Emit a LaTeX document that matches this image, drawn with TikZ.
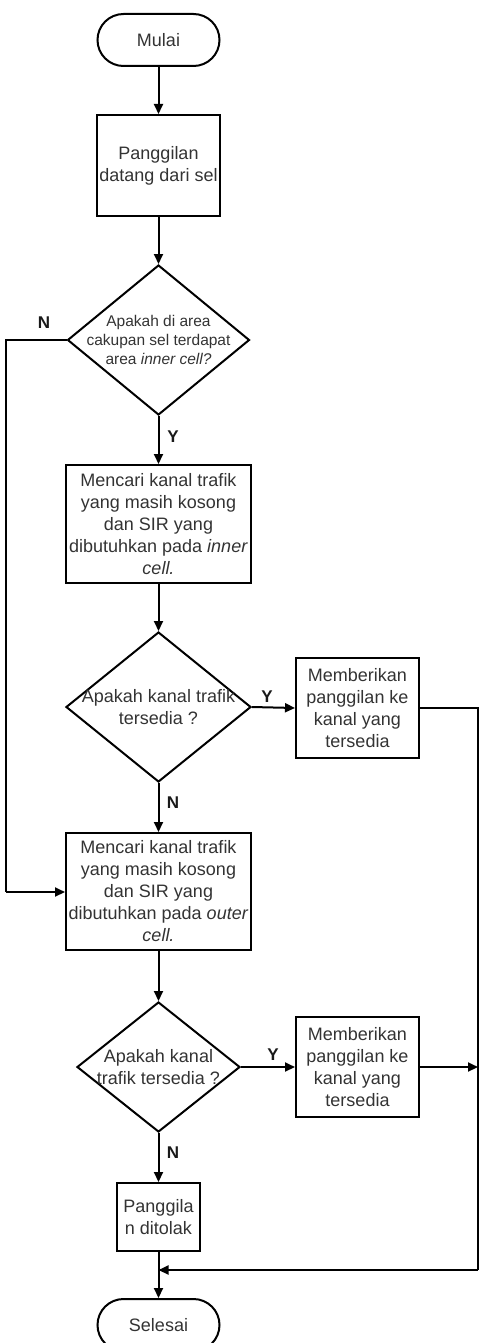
\documentclass[tikz,border=0pt]{standalone}
\usepackage{fontspec}
\setmainfont{Liberation Sans}
\usetikzlibrary{shapes.geometric,arrows.meta}
\begin{document}
\begin{tikzpicture}[x=1pt,y=-1pt,
  every node/.style={font=\fontsize{18}{22}\selectfont, text=black!80},
  proc/.style={draw=black, line width=2pt, rectangle, inner sep=0pt, align=center},
  term/.style={draw=black, line width=2pt, rectangle, rounded corners=26pt, inner sep=0pt, align=center, minimum width=122pt, minimum height=52pt},
  dec/.style={draw=black, line width=2pt, diamond, inner sep=0pt},
  dtext/.style={align=center},
  lab/.style={font=\fontsize{17}{19}\selectfont\bfseries, text=black!90},
  conn/.style={draw=black, line width=2pt},
  arr/.style={conn, -{Triangle[length=10pt,width=9pt]}}
]
\useasboundingbox (0,0) rectangle (482,1343);
\clip (0,0) rectangle (482,1343);

% nodes
\node[term] (m) at (158.5,40) {Mulai};
\node[proc, minimum width=123pt, minimum height=101pt] (b1) at (158.5,165.5) {Panggilan\\datang dari sel};
\node[dec, minimum width=182pt, minimum height=150pt] (d1) at (158.5,340) {};
\node[dtext, font=\fontsize{15.5}{19}\selectfont] (t1) at (d1.center) {Apakah di area\\cakupan sel terdapat\\area \textit{inner cell?}};
\node[proc, minimum width=185pt, minimum height=118pt] (b2) at (158.5,524) {Mencari kanal trafik\\yang masih kosong\\dan SIR yang\\dibutuhkan pada \textit{inner}\\\textit{cell.}};
\node[dec, minimum width=185pt, minimum height=150pt] (d2) at (158.5,707) {};
\node[dtext] (t2) at (d2.center) {Apakah kanal trafik\\tersedia ?};
\node[proc, minimum width=123pt, minimum height=100pt] (b4) at (357.5,708) {Memberikan\\panggilan ke\\kanal yang\\tersedia};
\node[proc, minimum width=185pt, minimum height=117pt] (b3) at (158.5,891.5) {Mencari kanal trafik\\yang masih kosong\\dan SIR yang\\dibutuhkan pada \textit{outer}\\\textit{cell.}};
\node[dec, minimum width=163pt, minimum height=130pt] (d3) at (158.5,1067) {};
\node[dtext] (t3) at (d3.center) {Apakah kanal\\trafik tersedia ?};
\node[proc, minimum width=123pt, minimum height=100pt] (b5) at (357.5,1067) {Memberikan\\panggilan ke\\kanal yang\\tersedia};
\node[proc, minimum width=83pt, minimum height=68pt] (b6) at (158.5,1217) {Panggila\\n ditolak};
\node[term] (s) at (158.5,1325) {Selesai};

\coordinate (lt) at (6,340);
\coordinate (lb) at (6,892);
\coordinate (rt) at (478,708);
\coordinate (rm) at (478,1067);
\coordinate (rb) at (478,1270);
\coordinate (j) at (158.5,1270);

% connectors
\draw[arr] (m) -- (b1);
\draw[arr] (b1) -- (d1.north);
\draw[arr] (d1.south) -- (b2);
\draw[conn] (d1.west) -- (lt) -- (lb);
\draw[arr] (lb) -- (b3.west |- lb);
\draw[arr] (b2) -- (d2.north);
\draw[arr] (d2.east) -- (b4.west);
\draw[arr] (d2.south) -- (b3);
\draw[conn] (b4.east) -- (rt) -- (rb);
\draw[arr] (rb) -- (j);
\draw[arr] (b3) -- (d3.north);
\draw[arr] (d3.east) -- (b5.west);
\draw[arr] (b5.east) -- (rm);
\draw[arr] (d3.south) -- (b6);
\draw[arr] (b6) -- (s);

% labels
\node[lab] (n1) at (44,323) {N};
\node[lab] (y1) at (173,437) {Y};
\node[lab] (y2) at (267,697) {Y};
\node[lab] (n2) at (173,803) {N};
\node[lab] (y3) at (273,1055) {Y};
\node[lab] (n3) at (173,1153) {N};
\end{tikzpicture}
\end{document}
